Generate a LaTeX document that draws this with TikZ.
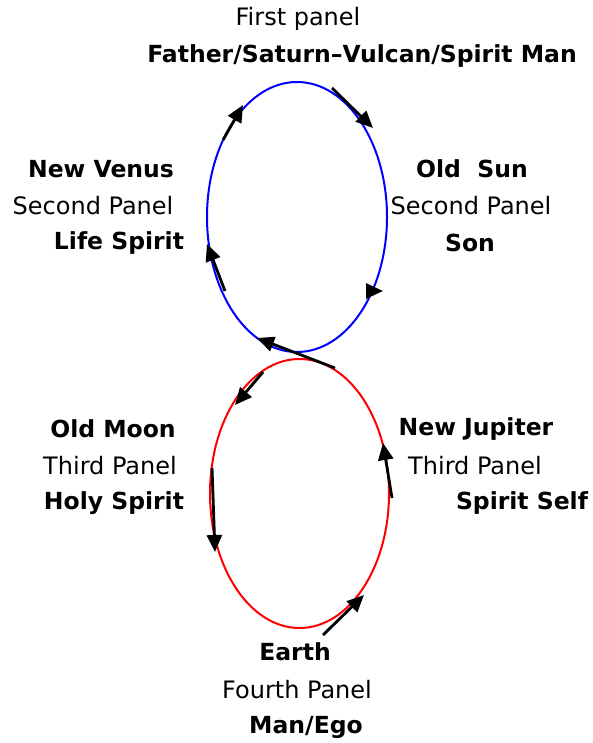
\documentclass[tikz,border=0pt]{standalone}
\usepackage{fontspec}
\setmainfont{DejaVu Sans}
\usepackage{tikz}
\usetikzlibrary{arrows.meta}

\tikzset{
    lbl/.style={font=\fontsize{24}{27}\selectfont, inner sep=0pt},
    blbl/.style={font=\fontsize{23.5}{26}\selectfont\bfseries, inner sep=0pt},
    arr/.style={line width=2.8pt, -{Triangle[length=17pt,width=15pt]}}
}

\begin{document}
\begin{tikzpicture}[x=1pt,y=-1pt]
    \useasboundingbox (0,0) rectangle (592,743);
    % the two loops
    \draw[blue, line width=2pt] (297,217) ellipse [x radius=90, y radius=135];
    \draw[red, line width=2pt] (299.5,493.5) ellipse [x radius=89.5, y radius=134.5];
    % arrows on the upper loop
    \draw[arr] (223,140) -- (243,105);
    \draw[arr] (332,88) -- (373,128);
    \draw[arr] (366,291) -- (383,291);
    \draw[arr] (225,291) -- (207,244);
    \draw[arr] (335,368) -- (257,338);
    % arrows on the lower loop
    \draw[arr] (263,372) -- (235,405);
    \draw[arr] (212,468) -- (215,552);
    \draw[arr] (323,635) -- (364,595);
    \draw[arr] (392,498) -- (383,443);
    % labels
    \node[lbl] (first) at (298,19) {First panel};
    \node[blbl] (father) at (362,56) {Father/Saturn–Vulcan/Spirit Man};
    \node[blbl] (venus) at (101,169) {New Venus};
    \node[lbl] (venus2) at (93,206) {Second Panel};
    \node[blbl] (venus3) at (119,243) {Life Spirit};
    \node[blbl] (sun) at (472,169) {Old\ \ Sun};
    \node[lbl] (sun2) at (471,206) {Second Panel};
    \node[blbl] (sun3) at (470,243) {Son};
    \node[blbl] (moon) at (113,429) {Old Moon};
    \node[lbl] (moon2) at (110,466) {Third Panel};
    \node[blbl] (moon3) at (114,503) {Holy Spirit};
    \node[blbl] (jupiter) at (476,429) {New Jupiter};
    \node[lbl] (jupiter2) at (475,466) {Third Panel};
    \node[blbl] (jupiter3) at (522,503) {Spirit Self};
    \node[blbl] (earth) at (295,652) {Earth};
    \node[lbl] (earth2) at (297,690) {Fourth Panel};
    \node[blbl] (earth3) at (306,727) {Man/Ego};
\end{tikzpicture}
\end{document}
